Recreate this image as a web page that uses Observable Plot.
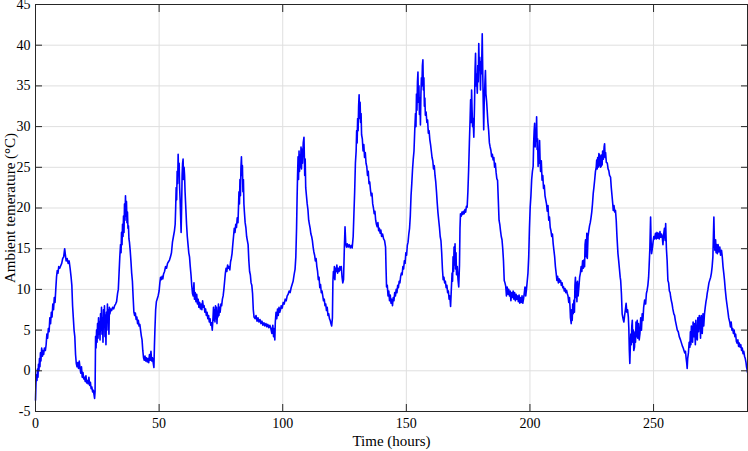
<!DOCTYPE html>
<html>
<head>
<meta charset="utf-8">
<script src="https://cdn.jsdelivr.net/npm/d3@7"></script>
<script src="https://cdn.jsdelivr.net/npm/@observablehq/plot@0.6"></script>
<style>
  html, body { margin: 0; padding: 0; background: #fff; }
  #chart { width: 748px; height: 451px; }
  #chart svg text { font-family: 'Liberation Serif', 'Times New Roman', serif; }
</style>
</head>
<body>
<div id="chart"></div>
<script>
// Axis ticks and labels
const xTicks = [0, 50, 100, 150, 200, 250];
const yTicks = [-5, 0, 5, 10, 15, 20, 25, 30, 35, 40, 45];
const xLabel = "Time (hours)";
const yLabel = "Ambient temerature (°C)";

// [hour, temperature °C] readings
const day1 = [[0,-3.6],[0.2,-1.5],[0.4,-0.5],[0.6,-1.2],[0.8,0.2],[1,-0.8],[1.2,0.8],[1.4,0],[1.6,1.5],[1.8,0.5],[2,2.2],[2.2,1.2],[2.5,2.8],[2.8,1.8],[3,2.5],[3.3,2],[3.6,2.8],[4,2.5],[4.3,3.2],[4.6,4.5],[4.9,4],[5.2,5.2],[5.5,4.8],[5.8,6.5],[6.1,5.8],[6.4,7.2],[6.7,6.6],[7,8.2],[7.3,7.5],[7.6,9],[7.9,8.4],[8.2,10],[8.5,11.5],[8.8,12.3],[9.1,12],[9.4,12.8],[9.8,12.6],[10.2,12.9],[10.6,13.2],[11,13.8],[11.4,14],[11.8,15],[12.1,14.2],[12.4,13.5],[12.8,13.8],[13.2,13.2],[13.6,13.5],[14,12.6],[14.4,11.5],[14.7,10.5],[15,8],[15.3,6.5],[15.6,5],[15.9,4.2],[16.2,2],[16.5,0.9],[16.8,0.5],[17.1,1],[17.4,0.3],[17.7,1.2],[18,0.4],[18.3,-0.3],[18.6,0.5],[18.9,-0.8],[19.2,-0.2],[19.5,-1],[19.8,-0.8],[20.1,-1.3],[20.4,-0.6],[20.7,-1.5],[21,-1.2],[21.3,-1.6],[21.6,-0.8],[21.9,-1.8],[22.2,-1.4],[22.5,-2.2],[22.8,-2],[23.1,-2.6],[23.4,-2.4],[23.7,-3],[23.9,-3.4],[24.1,-2.5]];
const day2 = [[24.3,4.2],[24.5,2.8],[24.7,5],[24.9,3.5],[25.1,5.8],[25.3,4],[25.5,6.5],[25.7,4.5],[25.9,6],[26.1,3.8],[26.3,7],[26.5,5],[26.7,7.8],[26.9,4.5],[27.1,6.5],[27.3,3.5],[27.5,7.5],[27.7,5.5],[27.9,8],[28.1,4.2],[28.3,6.8],[28.5,3.2],[28.7,7.2],[28.9,5],[29.1,8.2],[29.3,6],[29.5,7.5],[29.7,4.5],[29.9,7.8],[30.1,7],[30.4,7.6],[30.8,7.4],[31.2,7.8],[31.6,7.6],[32,8],[32.4,8.2],[32.8,8.5],[33.2,9.5],[33.5,10],[33.8,12],[34.1,14],[34.4,15.5],[34.6,14.5],[34.8,17],[35,15.5],[35.2,18],[35.4,16.5],[35.6,19],[35.8,17],[36,20.5],[36.2,18.5],[36.4,21.5],[36.6,19],[36.8,20.8],[37,18.2],[37.2,19.5],[37.4,17.5],[37.6,17.8],[37.8,16.2],[38,15.8],[38.3,14.8],[38.6,13.5],[38.9,12],[39.2,11],[39.5,9],[39.8,7.2],[40.1,6.8],[40.4,7.1],[40.7,6.3],[41,6.6],[41.3,5.8],[41.6,6.2],[41.9,5.5],[42.2,5.7],[42.5,5],[42.8,4.3],[43.1,3.8],[43.4,2.5],[43.7,1.6],[44,1.3],[44.3,1.8],[44.6,1.2],[44.9,1.6],[45.2,1.1],[45.5,1.5],[45.8,1],[46.1,2],[46.4,1.3],[46.7,2.4],[47,1.2],[47.3,1.6],[47.6,1],[47.9,0.4],[48.1,3]];
const day3 = [[48.3,5],[48.6,7.5],[48.9,8.5],[49.2,8.8],[49.6,9.2],[50,9.8],[50.3,10.8],[50.6,11.5],[50.9,11.2],[51.2,11.6],[51.5,11.3],[51.8,11.9],[52.2,12.2],[52.6,12.8],[53,12.6],[53.4,13.2],[53.8,13.4],[54.2,13.6],[54.6,14],[55,14.5],[55.4,15.8],[55.8,16.5],[56.2,17.2],[56.5,18],[56.7,20],[56.9,22.5],[57.1,21],[57.3,24.5],[57.5,23],[57.7,26.6],[57.9,24],[58.1,25.5],[58.3,22.5],[58.5,21],[58.7,19],[58.9,17],[59.1,20],[59.3,24],[59.5,25.5],[59.7,26],[59.9,23.5],[60.1,25],[60.3,24],[60.5,22],[60.8,20],[61.1,18],[61.4,16.5],[61.7,15.5],[62,14.5],[62.3,14],[62.6,12.8],[62.9,11.8],[63.2,10.5],[63.5,9.5],[63.8,9.2],[64.1,10.8],[64.3,8.8],[64.6,9.6],[64.9,8.5],[65.2,9.4],[65.5,8.2],[65.8,8.8],[66.1,7.8],[66.4,8.4],[66.7,7.6],[67,8.2],[67.3,7.5],[67.6,8.6],[67.9,7.8],[68.2,8],[68.5,7.2],[68.8,7.6],[69.1,6.8],[69.4,7.2],[69.7,6.4],[70,6.8],[70.3,6],[70.6,6.4],[70.9,5.6],[71.2,5.9],[71.5,5],[71.8,6.5],[72,7.8],[72.2,6.2],[72.4,7.5],[72.6,6],[72.8,8],[73,6.4],[73.2,7.8],[73.4,5.8],[73.6,7.2],[73.8,6.6],[74,8.2],[74.2,6.8],[74.4,7.8],[74.7,7.2],[75,8.2],[75.3,8],[75.6,8.8]];
const day4 = [[75.9,9.2],[76.2,10],[76.5,11],[76.8,12],[77.1,12.6],[77.4,12.2],[77.7,13],[78,12.6],[78.3,12.8],[78.6,12.4],[78.9,13.4],[79.2,13.8],[79.5,14.4],[79.8,15.5],[80.1,16.5],[80.4,17.5],[80.7,17],[81,18],[81.3,17.6],[81.6,18.8],[81.9,18.2],[82.1,20],[82.3,22],[82.5,20.5],[82.7,23.5],[82.9,21.5],[83.1,25],[83.3,26.3],[83.5,24],[83.7,25.2],[83.9,22],[84.1,23.5],[84.3,20.5],[84.5,19.5],[84.8,18.2],[85.1,17.6],[85.4,16.5],[85.7,16],[86,15.5],[86.3,13.5],[86.6,12.2],[86.9,11.8],[87.2,10.8],[87.5,10.5],[87.8,9.5],[88.1,7.5],[88.4,6.6],[88.8,6.4],[89.2,6.8],[89.6,6.1],[90,6.5],[90.4,6],[90.8,6.3],[91.2,5.8],[91.6,6.1],[92,5.6],[92.4,5.9],[92.8,5.5],[93.2,5.8],[93.6,5.4],[94,5.7],[94.4,5.3],[94.8,5.6],[95.2,5.2],[95.6,4.6],[96,5.6],[96.3,4.2],[96.6,5.2],[96.8,3.8],[97,6],[97.3,7.2],[97.6,6.4],[97.9,7.6],[98.2,6.8],[98.5,7.8],[98.8,7.2],[99.1,7.5],[99.4,8],[99.8,7.7],[100.2,8.4],[100.6,8.2],[101,8.8],[101.4,8.6],[101.8,9.2],[102.2,9.4],[102.6,9.8],[103,9.6],[103.4,10.2],[103.8,10.6],[104.2,11],[104.6,11.8],[105,12.5],[105.3,14],[105.6,17.5],[105.8,21]];
const day5 = [[106,24],[106.2,26.3],[106.4,23.5],[106.6,27],[106.8,24.5],[107,26.5],[107.2,25],[107.4,27.5],[107.6,24.8],[107.8,27.2],[108,25.5],[108.3,28],[108.6,28.7],[108.9,24],[109.1,26],[109.3,22.5],[109.6,21.5],[109.9,20.5],[110.2,19.8],[110.5,18.5],[110.8,18],[111.1,17.5],[111.4,16.8],[111.7,16.5],[112,16],[112.3,15.2],[112.6,14.6],[112.9,14.2],[113.2,13.5],[113.5,13.8],[113.8,12.8],[114.1,12.2],[114.4,11.2],[114.7,11.5],[115,10.2],[115.3,10.6],[115.6,9.6],[115.9,9.8],[116.2,9.2],[116.5,8.6],[116.8,8.8],[117.1,8],[117.4,8.2],[117.7,7.4],[118,7.8],[118.3,6.8],[118.6,7],[118.9,6.4],[119.2,6.2],[119.5,5.8],[119.8,5.5],[120.1,6.5],[120.3,11],[120.5,12.2],[120.7,11.4],[120.9,12.8],[121.1,11.2],[121.3,12.6],[121.6,12.2],[121.9,13],[122.2,12],[122.5,12.6],[122.8,12.2],[123.1,12.8],[123.4,12.4],[123.7,12.8],[124,11.5],[124.3,10.8],[124.6,11.2],[124.9,14.8],[125.2,17.7],[125.5,15.6],[125.8,15.2],[126.1,15.6],[126.5,15.2],[126.9,15.5],[127.3,15.1],[127.7,15.4],[128.1,15.1],[128.5,16.5],[128.8,19.3],[129.1,22],[129.4,25.5],[129.7,27],[129.9,29.5],[130.1,28],[130.3,31],[130.5,29.5],[130.7,32.5],[130.9,33.9],[131.1,31],[131.3,33],[131.5,30.5],[131.7,31.6],[131.9,29],[132.2,28.5],[132.5,27],[132.8,27.8],[133.1,26.2],[133.4,26.8],[133.7,25.5],[134,25.1],[134.3,24],[134.6,24.5],[134.9,23],[135.2,23.2],[135.5,22.2],[135.8,21.5],[136.1,21.8],[136.4,20.5],[136.7,20],[137,19.3],[137.3,19.6],[137.6,18.5],[137.9,18],[138.2,17.7],[138.5,18.2],[138.8,17.2],[139.1,17.5],[139.4,16.9],[139.7,17.3],[140,16.5],[140.4,16.8],[140.8,16.2],[141.2,16],[141.6,15.2],[141.8,12.5],[142,10.3]];
const day6 = [[142.3,10.5],[142.6,9.2],[142.9,9.8],[143.2,8.6],[143.5,9.3],[143.8,8.3],[144.1,8.8],[144.4,8],[144.7,9],[145,8.6],[145.3,9.6],[145.6,9.2],[145.9,10],[146.2,9.6],[146.5,10.5],[146.8,10.2],[147.1,11],[147.4,10.8],[147.7,11.6],[148,12],[148.3,11.8],[148.6,12.8],[148.9,12.5],[149.2,13.5],[149.5,13.2],[149.8,14.5],[150.1,14.2],[150.4,15.4],[150.7,15.8],[151,16.8],[151.3,17.5],[151.6,19],[151.9,21.5],[152.2,23],[152.5,24.7],[152.8,26],[153.1,27],[153.4,29.5],[153.7,31.6],[153.9,30],[154.1,34],[154.3,32],[154.5,35.5],[154.7,36.7],[154.9,33],[155.1,35],[155.3,31.5],[155.5,33.5],[155.7,30.2],[155.9,34],[156.1,36],[156.3,35],[156.5,37.5],[156.7,38.2],[156.9,34.5],[157.1,36],[157.3,32.5],[157.5,33.5],[157.7,31.4],[158,31.8],[158.3,30.5],[158.6,30.8],[158.9,29.2],[159.2,29.5],[159.5,28.4],[159.8,27.8],[160.1,27],[160.4,26.2],[160.7,25.8],[161,24.8],[161.3,25.2],[161.6,24],[161.9,23.2],[162.2,22],[162.5,20.6],[162.8,19.4],[163.1,18.5],[163.4,17.6],[163.7,16.5],[164,16],[164.3,14.5],[164.6,12.5],[164.9,11.2],[165.2,11.5],[165.5,10.8],[165.8,11],[166.1,10.2],[166.4,10.5],[166.7,9.6],[167,9.8],[167.3,8.8],[167.6,9.2],[167.9,7.9]];
const day7 = [[168.2,10],[168.5,12],[168.7,11],[168.9,14],[169.1,12.2],[169.3,15.2],[169.5,13],[169.7,15.6],[169.9,12.5],[170.1,14.5],[170.3,11.8],[170.6,12.8],[170.9,11.2],[171.2,10.3],[171.5,13],[171.7,17.5],[171.9,19.3],[172.2,19],[172.5,19.5],[172.8,19.2],[173.1,19.6],[173.4,19.3],[173.7,19.8],[174,19.5],[174.3,20.2],[174.6,20.1],[174.9,22],[175.2,24.7],[175.5,28],[175.8,31],[176,33.3],[176.2,30.5],[176.4,34.5],[176.6,32],[176.8,30],[177,31],[177.3,28.7],[177.6,33],[177.8,37],[178,39],[178.2,35],[178.4,36.5],[178.7,34.1],[178.9,37.5],[179.1,35.5],[179.3,40.2],[179.5,37],[179.7,38.5],[180,34.5],[180.2,38],[180.4,36.5],[180.7,41.4],[180.9,37],[181.1,33],[181.3,29.6],[181.5,33],[181.8,35.5],[182,36.9],[182.2,34],[182.5,33],[182.7,32],[183,30.5],[183.3,29.5],[183.6,28],[183.9,27.5],[184.2,27.1],[184.5,26.3],[184.8,26.6],[185.1,25.9],[185.4,26.2],[185.7,25],[186,25.5],[186.3,24.4],[186.6,23.6],[186.9,23.4],[187.2,21],[187.5,18.5],[187.8,18],[188.1,17.2],[188.4,16.5],[188.7,16.1],[189,15],[189.3,13.5],[189.6,11.1],[189.9,10.8],[190.2,10.4],[190.5,9.2],[190.8,10.3],[191.1,9.4],[191.4,10],[191.7,9.2],[192,9.8]];
const day8 = [[192.3,8.6],[192.6,9.6],[192.9,9],[193.2,9.8],[193.5,8.8],[193.8,9.6],[194.1,8.6],[194.4,9.4],[194.7,8.8],[195,9.2],[195.3,8.5],[195.6,9.3],[195.9,8.3],[196.2,9],[196.5,8.4],[196.8,9.2],[197.1,8.3],[197.4,8.8],[197.7,9.5],[198,10.3],[198.3,9.2],[198.6,10],[198.9,11],[199.2,12],[199.5,14],[199.8,17.5],[200.1,20.1],[200.4,21.5],[200.7,23.5],[201,24.5],[201.3,25.1],[201.5,28],[201.7,29.5],[201.9,30.4],[202.1,27.5],[202.3,29.5],[202.5,28.2],[202.7,31.2],[202.9,27.2],[203.1,28.5],[203.3,25.1],[203.5,27],[203.7,25.5],[203.9,28.3],[204.1,26],[204.3,24.5],[204.6,25.8],[204.9,23.4],[205.2,24],[205.5,22.4],[205.8,22.8],[206.1,21.5],[206.4,21],[206.7,20.5],[207,19.6],[207.3,20.3],[207.6,18.5],[207.9,18.9],[208.2,17.6],[208.5,17.2],[208.8,16.5],[209.1,16.8],[209.4,15.6],[209.7,14.8],[210,14],[210.3,12.8],[210.6,12],[210.9,11.1],[211.2,11.6],[211.5,10.8],[211.8,11.3],[212.1,10.9],[212.4,11.1],[212.7,10.5],[213,10.8],[213.3,10.2],[213.6,10.3],[213.9,9.8],[214.2,10.1],[214.5,9.6],[214.8,9.9],[215.1,9.5],[215.4,9.2],[215.7,8.4],[216,9]];
const day9 = [[216.2,7.9],[216.4,6.5],[216.7,5.8],[216.9,7.5],[217.1,6.2],[217.3,8.2],[217.5,7],[217.8,8.7],[218,7.2],[218.2,10.5],[218.4,11.5],[218.6,9],[218.8,10.8],[219,8.5],[219.2,11],[219.5,9.2],[219.8,10.3],[220.1,11.5],[220.4,12],[220.7,12.8],[221,12.2],[221.3,13.5],[221.6,12.6],[221.8,13.6],[222.1,12.8],[222.3,15.5],[222.5,16.1],[222.8,14],[223,16.9],[223.2,13.8],[223.5,16.5],[223.8,17.2],[224.1,17.8],[224.4,18.2],[224.7,18.8],[225,19.5],[225.3,20.5],[225.6,21.8],[225.9,22.6],[226.2,23.5],[226.5,24.5],[226.8,25],[227,25.9],[227.2,24.8],[227.4,26.2],[227.6,25],[227.9,26.7],[228.1,25.2],[228.3,26.5],[228.5,25],[228.8,25.1],[229,26.5],[229.2,25.3],[229.4,27],[229.7,26],[230,27.5],[230.2,27.9],[230.4,26.2],[230.6,26.8],[230.9,25.6],[231.3,25.5],[231.6,24.8],[231.9,24.6],[232.2,24],[232.6,23.8],[232.9,22.5],[233.2,21.5],[233.5,20.5],[233.7,19.7],[234,20.3],[234.3,19.5],[234.6,19.7],[234.9,18.5],[235.2,16.5],[235.6,14.4],[235.9,13.5],[236.2,12.5],[236.5,11.5],[236.7,11.1],[237,9.5],[237.3,7],[237.6,6.5],[237.8,6.2],[238,6],[238.3,6.8],[238.6,7.5],[238.9,8.3],[239.2,7.2],[239.5,7.5],[239.8,6.6]];
const day10 = [[240,5.2],[240.2,2.5],[240.4,0.9],[240.6,3],[240.8,4.5],[241,3.2],[241.2,5.5],[241.4,6.2],[241.6,3.5],[241.8,5],[242,2.5],[242.3,2.9],[242.5,4.8],[242.7,3.5],[242.9,6],[243.1,4.2],[243.4,6.2],[243.6,4],[243.9,5.8],[244.2,3.8],[244.5,4.6],[244.8,6.5],[245.1,5],[245.4,7],[245.7,6.2],[246,7.8],[246.4,8.7],[246.8,8.2],[247.1,9.5],[247.4,9.9],[247.7,10.5],[248,11.5],[248.2,12.8],[248.5,15],[248.8,18.9],[249,16],[249.2,14.4],[249.5,15],[249.8,15.8],[250.1,16.5],[250.4,16.2],[250.8,16.9],[251.1,16.2],[251.4,17],[251.7,16.3],[252,16.9],[252.3,16.2],[252.6,17.1],[252.9,16.4],[253.2,16.8],[253.5,16.5],[253.8,15.5],[254.1,16.8],[254.4,17.5],[254.7,16],[254.9,18.1],[255.2,15],[255.5,13.5],[255.8,11.1],[256.1,10.8],[256.4,9.8],[256.7,9.6],[256.9,9.1],[257.2,8.6],[257.5,8.2],[257.8,7.6],[258.2,7],[258.5,6.8],[258.8,6.2],[259.2,5.6],[259.6,5],[260,4.8],[260.4,4.2],[260.9,3.8],[261.3,3.4],[261.7,3],[262,2.8],[262.3,2.5],[262.6,2.2],[262.9,2.4],[263.2,1.5],[263.4,1],[263.6,0.3]];
const day11 = [[263.8,1.5],[264.1,2.2],[264.4,3.5],[264.7,2.9],[264.9,4.8],[265.1,3.2],[265.3,5.5],[265.6,5],[265.8,3.5],[266,6],[266.3,4.2],[266.6,5.8],[266.9,3.2],[267.1,6.2],[267.4,4],[267.7,3.8],[267.9,6.5],[268.2,4.8],[268.5,6.8],[268.8,6.2],[269,4],[269.3,6.8],[269.7,4.6],[270,7],[270.3,5.5],[270.6,7],[270.9,7.8],[271.2,8.5],[271.5,9],[271.7,9.5],[272,10],[272.4,10.8],[272.8,11.2],[273.1,11.5],[273.4,12],[273.7,12.8],[274,14],[274.2,16.5],[274.4,18.9],[274.6,16],[274.8,14.8],[275.1,16.1],[275.3,14.5],[275.5,15.5],[275.8,14.4],[276.1,15.5],[276.4,14.6],[276.8,15.2],[277.1,14.2],[277.5,14.8],[277.8,14],[278.1,12.8],[278.4,12],[278.7,11.1],[279,10],[279.4,8.8],[279.8,7.9],[280.1,7.2],[280.4,6.5],[280.8,6],[281.1,5.4],[281.4,6],[281.7,5],[282,5.2],[282.3,4.6],[282.6,5],[282.9,4.2],[283.2,4.5],[283.5,3.6],[283.8,3.4],[284.1,3.8],[284.4,3],[284.7,3.4],[285,2.9],[285.3,3.2],[285.6,2.5],[285.9,2.8],[286.2,2.1],[286.5,2.4],[286.8,1.8],[287.1,1.5],[287.4,1],[287.6,0.5],[287.8,0.2],[288,-0.2]];

const data = [...day1, ...day2, ...day3, ...day4, ...day5, ...day6, ...day7, ...day8, ...day9, ...day10, ...day11]
  .map(([hour, temp]) => ({hour, temp}));

const FONT = "'Liberation Serif', 'Times New Roman', serif";
const axisColor = "#262626";
const gridColor = "#dfdfdf";
const fmt = d => String(d);

const chart = Plot.plot({
  width: 748,
  height: 451,
  marginLeft: 35,
  marginRight: 1,
  marginTop: 4,
  marginBottom: 40,
  style: {fontFamily: FONT, fontSize: "14px", color: "#000", background: "#fff"},
  x: {domain: [0, 288], ticks: xTicks},
  y: {domain: [-5, 45], ticks: yTicks},
  marks: [
    Plot.gridX(xTicks, {stroke: gridColor, strokeOpacity: 1}),
    Plot.gridY(yTicks, {stroke: gridColor, strokeOpacity: 1}),
    Plot.line(data, {x: "hour", y: "temp", stroke: "#0000ff", strokeWidth: 1.6}),
    // tick labels
    Plot.axisX(xTicks, {anchor: "bottom", tickSize: 0, tickPadding: 7, label: null, fill: "#000", fontSize: 14, fontFamily: FONT, tickFormat: fmt}),
    Plot.axisY(yTicks, {anchor: "left", tickSize: 0, tickPadding: 5, label: null, fill: "#000", fontSize: 14, fontFamily: FONT, tickFormat: fmt}),
    // inward ticks on all four sides
    Plot.axisX(xTicks, {anchor: "bottom", tickSize: 7, dy: -7, text: null, label: null, stroke: axisColor}),
    Plot.axisX(xTicks, {anchor: "top", tickSize: 7, dy: 7, text: null, label: null, stroke: axisColor}),
    Plot.axisY(yTicks, {anchor: "left", tickSize: 7, dx: 7, text: null, label: null, stroke: axisColor}),
    Plot.axisY(yTicks, {anchor: "right", tickSize: 7, dx: -7, text: null, label: null, stroke: axisColor}),
    Plot.frame({stroke: axisColor, strokeWidth: 1}),
    // axis titles
    Plot.text([xLabel], {frameAnchor: "bottom", lineAnchor: "middle", textAnchor: "middle", dy: 30, fontSize: 15, fontFamily: FONT, fill: "#000"}),
    Plot.text([yLabel], {frameAnchor: "left", lineAnchor: "middle", textAnchor: "middle", dx: -25, rotate: -90, fontSize: 15, fontFamily: FONT, fill: "#000"})
  ]
});

document.getElementById("chart").appendChild(chart);
</script>
</body>
</html>
